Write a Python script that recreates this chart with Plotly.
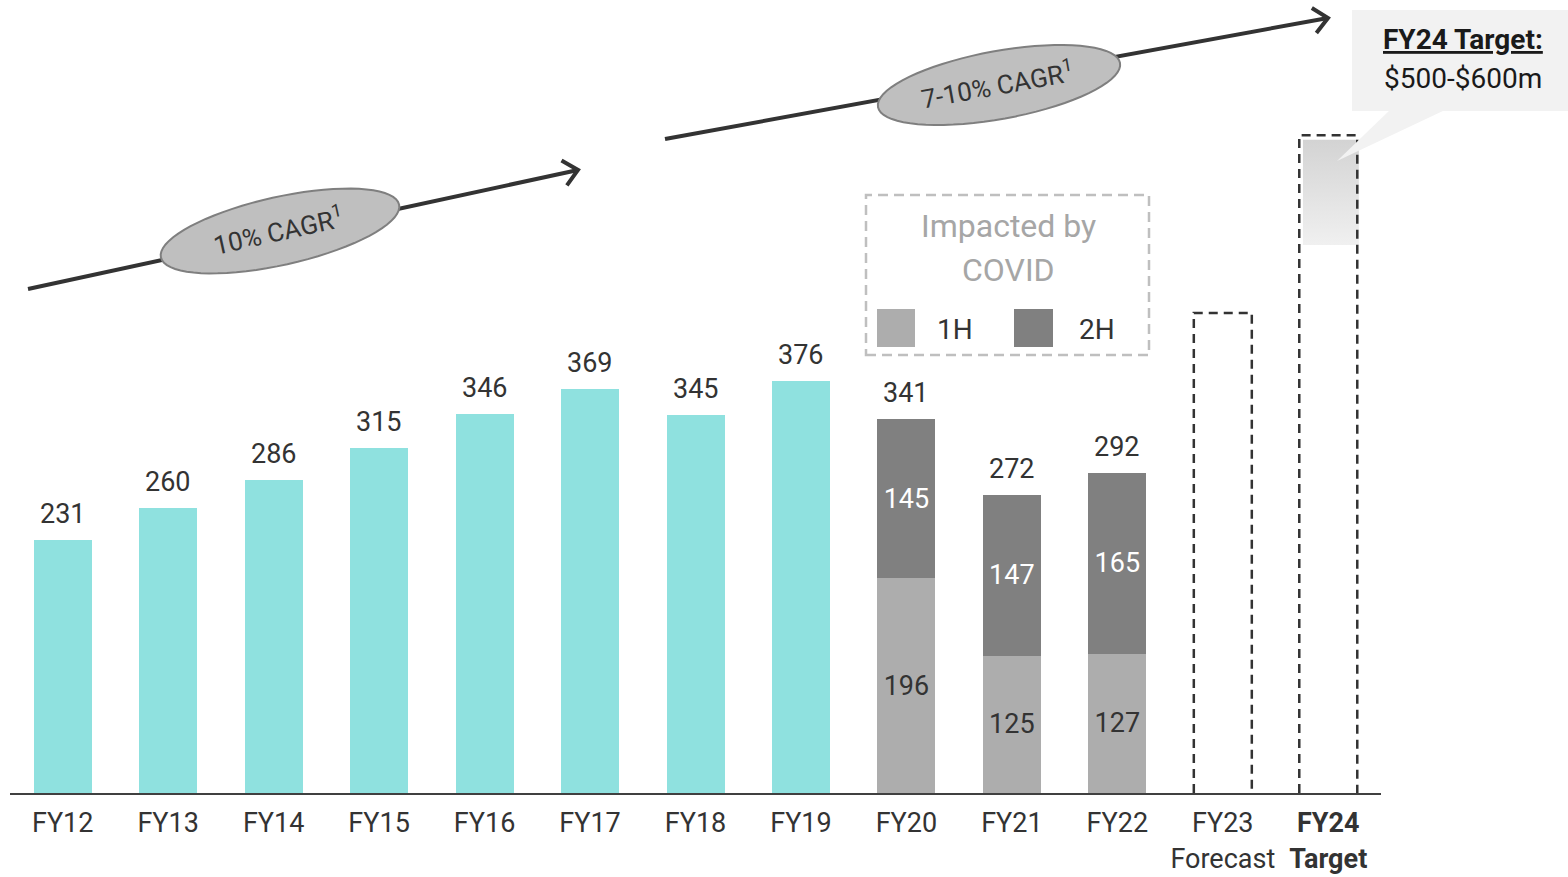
import math
import plotly.graph_objects as go

# ---------------- data ----------------
categories = ["FY12", "FY13", "FY14", "FY15", "FY16", "FY17", "FY18", "FY19",
              "FY20", "FY21", "FY22", "FY23", "FY24"]
tick_labels = ["FY12", "FY13", "FY14", "FY15", "FY16", "FY17", "FY18", "FY19",
               "FY20", "FY21", "FY22", "FY23<br>Forecast", "<b>FY24</b><br><b>Target</b>"]
actual_years = ["FY12", "FY13", "FY14", "FY15", "FY16", "FY17", "FY18", "FY19"]
actual_values = [231, 260, 286, 315, 346, 369, 345, 376]
covid_years = ["FY20", "FY21", "FY22"]
h1_values = [196, 125, 127]
h2_values = [145, 147, 165]
forecast_year = "FY23"
forecast_value = 438
target_year = "FY24"
target_low = 500
target_high = 600

TEAL = "#8fe1df"
C1H = "#adadad"
C2H = "#808080"
DARK = "#333333"
FONT = "Roboto"

W, H = 1568, 877
ML, MR, MT, MB = 10, 187, 0, 84
PW, PH = W - ML - MR, H - MT - MB
YMAX = 723.5
BW = 0.55

idx = {c: i for i, c in enumerate(categories)}


def px(x):
    return (x - ML) / PW


def py(y):
    return (H - MB - y) / PH


def note(x, y, text, size, color, angle=0):
    return dict(x=px(x), y=py(y), xref="paper", yref="paper", text=text,
                showarrow=False, xanchor="center", yanchor="middle",
                textangle=angle, font=dict(family=FONT, size=size, color=color))


fig = go.Figure()

fig.add_trace(go.Bar(x=[idx[c] for c in actual_years], y=actual_values, width=BW,
                     marker=dict(color=TEAL, line=dict(width=0)), hoverinfo="skip"))
fig.add_trace(go.Bar(x=[idx[c] for c in covid_years], y=h1_values, width=BW,
                     marker=dict(color=C1H, line=dict(width=0)),
                     text=[str(v) for v in h1_values], textposition="inside",
                     insidetextanchor="middle", textangle=0,
                     textfont=dict(family=FONT, size=27, color=DARK), hoverinfo="skip"))
fig.add_trace(go.Bar(x=[idx[c] for c in covid_years], y=h2_values, width=BW,
                     marker=dict(color=C2H, line=dict(width=0)),
                     text=[str(v) for v in h2_values], textposition="inside",
                     insidetextanchor="middle", textangle=0,
                     textfont=dict(family=FONT, size=27, color="white"), hoverinfo="skip"))

# gradient target range box
ti = idx[target_year]
fig.add_trace(go.Scatter(
    x=[ti - 0.24, ti + 0.29, ti + 0.29, ti - 0.24, ti - 0.24],
    y=[target_low, target_low, target_high - 4, target_high - 4, target_low],
    mode="lines", line=dict(width=0), fill="toself",
    fillgradient=dict(type="vertical", colorscale=[[0, "#f0f0f0"], [1, "#d3d3d3"]]),
    hoverinfo="skip"))

annotations = []
# totals above bars
totals = list(zip(actual_years, actual_values)) + [
    (c, a + b) for c, a, b in zip(covid_years, h1_values, h2_values)]
for c, v in totals:
    annotations.append(dict(x=idx[c], y=v, xref="x", yref="y", text=str(v),
                            showarrow=False, xanchor="center", yanchor="bottom", yshift=8,
                            font=dict(family=FONT, size=27, color=DARK)))

shapes = []
# dashed outlines for forecast / target
for c, top in [(forecast_year, forecast_value), (target_year, target_high)]:
    i = idx[c]
    x0, x1 = i - BW / 2, i + BW / 2
    shapes.append(dict(type="path", xref="x", yref="y",
                       path=f"M {x0},0 L {x0},{top} L {x1},{top} L {x1},0",
                       line=dict(color=DARK, width=2.5, dash="9px,6px")))

# growth arrows
arrows = [((28, 289), (578, 170)), ((665, 139), (1328, 18))]
for (x0, y0), (x1, y1) in arrows:
    shapes.append(dict(type="line", xref="paper", yref="paper",
                       x0=px(x0), y0=py(y0), x1=px(x1), y1=py(y1),
                       line=dict(color=DARK, width=4)))
    ang = math.atan2(y1 - y0, x1 - x0)
    L = 19
    pts = []
    for s in (1, -1):
        a = ang + math.pi + s * math.radians(42)
        pts.append((x1 + L * math.cos(a), y1 + L * math.sin(a)))
    path = (f"M {px(pts[0][0])},{py(pts[0][1])} L {px(x1)},{py(y1)} "
            f"L {px(pts[1][0])},{py(pts[1][1])}")
    shapes.append(dict(type="path", xref="paper", yref="paper", path=path,
                       line=dict(color=DARK, width=4)))

# ellipses with CAGR labels
ellipses = [((280, 231), 122, 34, -12.5, "10% CAGR<sup>1</sup>"),
            ((999, 85), 123, 34, -10.3, "7-10% CAGR<sup>1</sup>")]
for (cx, cy), a, b, deg, label in ellipses:
    t = math.radians(deg)
    pts = []
    for k in range(73):
        u = 2 * math.pi * k / 72
        ex, ey = a * math.cos(u), b * math.sin(u)
        X = cx + ex * math.cos(t) - ey * math.sin(t)
        Y = cy + ex * math.sin(t) + ey * math.cos(t)
        pts.append(f"{px(X)},{py(Y)}")
    shapes.append(dict(type="path", xref="paper", yref="paper",
                       path="M " + " L ".join(pts) + " Z",
                       fillcolor="#bfbfbf", line=dict(color="#7f7f7f", width=2)))
    annotations.append(note(cx - 2, cy - 1, label, 26, DARK, deg))

# COVID box
shapes.append(dict(type="rect", xref="paper", yref="paper",
                   x0=px(866), x1=px(1149), y0=py(355), y1=py(195),
                   line=dict(color="#bfbfbf", width=2.5, dash="10px,6px")))
annotations.append(note(1008, 226, "Impacted by", 32, "#a6a6a6"))
annotations.append(note(1008, 270, "COVID", 32, "#a6a6a6"))
for (x0, x1), col, lab, tx in [((877, 915), C1H, "1H", 955), ((1014, 1053), C2H, "2H", 1097)]:
    shapes.append(dict(type="rect", xref="paper", yref="paper",
                       x0=px(x0), x1=px(x1), y0=py(347), y1=py(309),
                       fillcolor=col, line=dict(width=0)))
    annotations.append(note(tx, 329, lab, 28, DARK))

# callout
shapes.append(dict(type="rect", xref="paper", yref="paper",
                   x0=px(1352), x1=px(1568), y0=py(111), y1=py(10),
                   fillcolor="#f2f2f2", line=dict(width=0), layer="below"))
shapes.append(dict(type="path", xref="paper", yref="paper",
                   path=f"M {px(1390)},{py(110)} L {px(1445)},{py(110)} L {px(1337)},{py(161)} Z",
                   fillcolor="#f2f2f2", line=dict(width=0)))
annotations.append(note(1463, 40, "<b><u>FY24 Target:</u></b>", 28, "#1a1a1a"))
annotations.append(note(1463, 78, "$500-$600m", 28, "#1a1a1a"))

fig.update_layout(
    width=W, height=H, margin=dict(l=ML, r=MR, t=MT, b=MB),
    barmode="stack", showlegend=False,
    plot_bgcolor="white", paper_bgcolor="white",
    xaxis=dict(range=[-0.5, 12.5], tickmode="array", tickvals=list(range(len(categories))),
               ticktext=tick_labels, showgrid=False, zeroline=False,
               showline=True, linecolor="#404040", linewidth=2, ticks="",
               ticklabelstandoff=5,
               tickfont=dict(family=FONT, size=27, color=DARK)),
    yaxis=dict(range=[0, YMAX], visible=False, showgrid=False, zeroline=False),
    shapes=shapes, annotations=annotations,
    uniformtext=dict(mode=False),
)

fig.write_html("out.html")
